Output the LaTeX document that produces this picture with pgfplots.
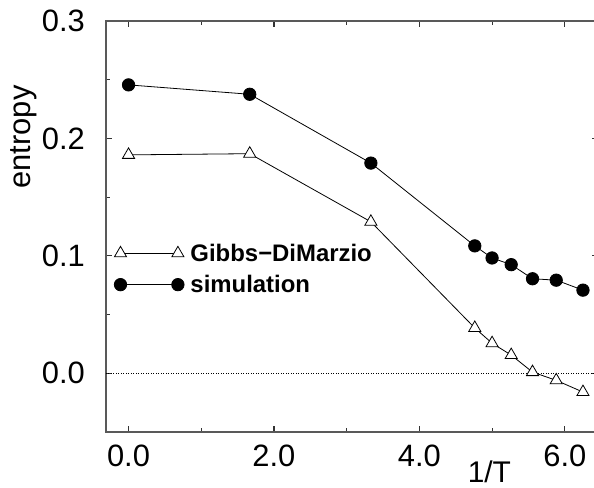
\documentclass[border=0pt]{standalone}
\usepackage{fontspec}
\setmainfont{Liberation Sans}
\usepackage{pgfplots}
\pgfplotsset{compat=1.18}
\begin{document}
\begin{tikzpicture}
\useasboundingbox (-106bp,-56bp) rectangle (488bp,432bp);
\begin{axis}[
  scale only axis, width=491.5bp, height=411bp,
  xmin=-0.31, xmax=6.45, ymin=-0.05, ymax=0.3,
  xtick={0,2,4,6}, minor xtick={1,3,5},
  ytick={0,0.1,0.2,0.3}, minor ytick={-0.05,0.05,0.15,0.25},
  scaled ticks=false,
  tick align=inside, major tick length=6bp, minor tick length=4bp,
  axis line style={black!65, line width=1.1bp},
  every tick/.style={black!80, line width=1.1bp},
  /pgf/number format/assume math mode=true,
  /pgf/number format/fixed, /pgf/number format/fixed zerofill, /pgf/number format/precision=1,
  xticklabel style={font=\fontsize{31}{36}\selectfont, inner sep=0pt, anchor=north, yshift=-13bp},
  yticklabel style={font=\fontsize{31}{36}\selectfont, inner sep=0pt, anchor=east, xshift=-21bp},
  xlabel={1/T},
  xlabel style={at={(rel axis cs:0.78,0)}, anchor=base, yshift=-50bp, inner sep=0pt, font=\fontsize{30}{34}\selectfont},
  ylabel={entropy},
  ylabel style={at={(axis description cs:-0.1546,0.718)}, anchor=base, inner sep=0pt, font=\fontsize{31}{36}\selectfont},
  legend image code/.code={\path[draw=none,fill=none] (-7bp,-2bp) rectangle (70bp,16bp); \draw[mark repeat=1,#1] plot coordinates {(0bp,8bp) (57.4bp,8bp)};},
  legend style={draw=none, fill=none, inner sep=0pt, outer sep=0pt,
    at={(rel axis cs:0,0)}, anchor=north west, xshift=7.5bp, yshift=188bp,
    font=\bfseries\fontsize{24}{28}\selectfont, row sep=12bp,
    nodes={inner sep=0pt, anchor=base west}},
  legend cell align=left,
]
\addplot[black, dash pattern=on 1bp off 1.5bp, line width=0.8bp, forget plot] coordinates {(-0.31,0) (6.45,0)};
\addplot[black, line width=0.8bp, mark=triangle*, mark size=7bp, mark options={solid, fill=white, draw=black, line width=0.8bp}]
  coordinates {(0,0.186) (1.667,0.187) (3.333,0.129) (4.762,0.0386) (5.0,0.0256) (5.263,0.0155) (5.556,0.001) (5.882,-0.006) (6.25,-0.016)};
\addlegendentry{Gibbs−DiMarzio}
\addplot[black, line width=0.8bp, mark=*, mark size=6.2bp, mark options={solid, fill=black}]
  coordinates {(0,0.2456) (1.667,0.2376) (3.333,0.179) (4.762,0.1085) (5.0,0.0982) (5.263,0.0925) (5.556,0.0805) (5.882,0.0793) (6.25,0.0708)};
\addlegendentry{simulation}
\end{axis}
\end{tikzpicture}
\end{document}
